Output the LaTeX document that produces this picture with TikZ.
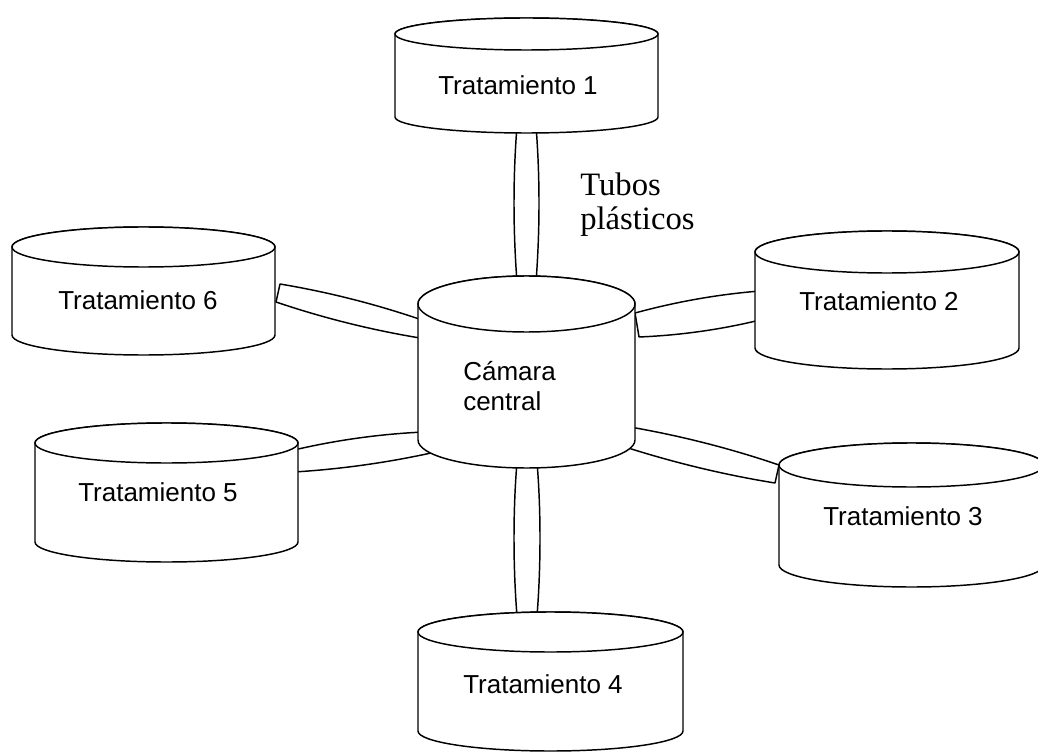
\documentclass[tikz,border=0pt]{standalone}
\usepackage{fontspec}
\setmainfont{Liberation Sans}
\newfontfamily\serifface{Liberation Serif}
\newcommand\drawcyl[6]{% name, cx, ty, by, rx, ry  (pixel units, y downward)
  \filldraw[cylline] ({#2-#5},{-#3}) -- ({#2-#5},{-#4})
     arc[start angle=180,end angle=360,x radius=#5,y radius=#6]
     -- ({#2+#5},{-#3})
     arc[start angle=0,end angle=180,x radius=#5,y radius=#6] -- cycle;
  \draw[cylline] (#2,{-#3}) ellipse[x radius=#5,y radius=#6];
  \coordinate (#1) at (#2,{-(#3+#4)/2});
}
\tikzset{
  cylline/.style={line width=1.1pt, draw=black, fill=white, line join=round},
  tubeline/.style={line width=1.1pt, draw=black, fill=white, line join=round},
  lbl/.style={inner sep=0pt, anchor=base west, font=\fontsize{19.5}{22.4}\selectfont},
  serlbl/.style={inner sep=0pt, anchor=base west, font=\serifface\fontsize{24.5}{28}\selectfont}
}
\begin{document}
\begin{tikzpicture}[x=0.75pt,y=0.75pt]
\useasboundingbox (0,0) rectangle (1038,-752);
\clip (0,0) rectangle (1038,-752);
\fill[white] (0,0) rectangle (1038,-752);

% tubes (drawn first, cylinders cover their ends)
% T1 - central (vertical)
\filldraw[tubeline] (517,-126) .. controls (513,-177) and (513,-229) .. (517,-282)
   -- (536,-282) .. controls (540,-229) and (540,-177) .. (536,-126) -- cycle;
% central - T4 (vertical)
\filldraw[tubeline] (517,-462) .. controls (513,-510) and (513,-566) .. (517,-616)
   -- (537,-616) .. controls (541,-566) and (541,-510) .. (537,-462) -- cycle;
% T6 - central
\filldraw[tubeline] (280,-284) .. controls (328.3,-292.1) and (375.7,-304.1) .. (422,-320)
   -- (420,-338) .. controls (371,-329.9) and (323,-317.9) .. (276,-302) -- cycle;
% central - T2
\filldraw[tubeline] (635,-313) .. controls (676,-301.8) and (717.6,-294.4) .. (760,-291)
   -- (760,-320) .. controls (720.3,-329.7) and (679.9,-335.3) .. (639,-337) -- cycle;
% T5 - central
\filldraw[tubeline] (294,-450) .. controls (336.8,-440) and (380.1,-434) .. (424,-432)
   -- (440,-451) .. controls (391.9,-462) and (343.2,-469) .. (294,-472) -- cycle;
% central - T3
\filldraw[tubeline] (630,-427) .. controls (680.7,-435.8) and (730.3,-448.4) .. (779,-465)
   -- (775,-483) .. controls (723.1,-474.6) and (672.1,-462.2) .. (622,-446) -- cycle;

% cylinders
\drawcyl{c1}{526.5}{34}{117}{131.5}{16}
\drawcyl{c6}{143.5}{247}{335}{131.5}{20}
\drawcyl{c2}{887}{252}{348}{132}{21}
\drawcyl{c5}{166.5}{443}{542}{131.5}{20}
\drawcyl{c3}{911.5}{465}{565}{132.5}{22}
\drawcyl{c4}{550.5}{632}{731}{132.5}{20}
\drawcyl{cc}{526.5}{304}{440}{108.5}{28}

% labels
\node[lbl] (l1) at (438,-95) {Tratamiento 1};
\node[lbl] (l2) at (799,-310) {Tratamiento 2};
\node[lbl] (l3) at (823,-525) {Tratamiento 3};
\node[lbl] (l4) at (463,-693) {Tratamiento 4};
\node[lbl] (l5) at (78,-501) {Tratamiento 5};
\node[lbl] (l6) at (58,-309) {Tratamiento 6};
\node[lbl] (lc1) at (463,-380) {Cámara};
\node[lbl] (lc2) at (463,-410) {central};
\node[serlbl] (tb1) at (580,-196) {Tubos};
\node[serlbl] (tb2) at (580,-230) {plásticos};
\end{tikzpicture}
\end{document}
